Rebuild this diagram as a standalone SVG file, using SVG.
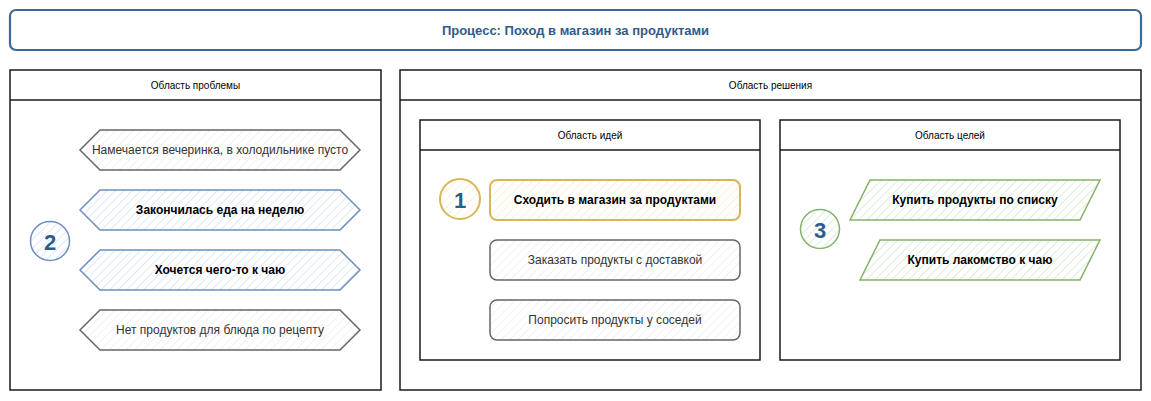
<svg xmlns="http://www.w3.org/2000/svg" width="1151" height="401" viewBox="0 0 1151 401">
<defs>
<pattern id="hBlue" patternUnits="userSpaceOnUse" width="6" height="6" patternTransform="rotate(45)"><rect width="6" height="6" fill="#ffffff"/><line x1="0" y1="0" x2="0" y2="6" stroke="#c9daf3" stroke-width="1.2"/></pattern>
<pattern id="hGrey" patternUnits="userSpaceOnUse" width="6" height="6" patternTransform="rotate(45)"><rect width="6" height="6" fill="#ffffff"/><line x1="0" y1="0" x2="0" y2="6" stroke="#e8e8e8" stroke-width="1.2"/></pattern>
<pattern id="hYellow" patternUnits="userSpaceOnUse" width="6" height="6" patternTransform="rotate(45)"><rect width="6" height="6" fill="#ffffff"/><line x1="0" y1="0" x2="0" y2="6" stroke="#f7e6b8" stroke-width="1.2"/></pattern>
<pattern id="hGreen" patternUnits="userSpaceOnUse" width="6" height="6" patternTransform="rotate(45)"><rect width="6" height="6" fill="#ffffff"/><line x1="0" y1="0" x2="0" y2="6" stroke="#c6e0c4" stroke-width="1.2"/></pattern>
</defs>
<style>
text{font-family:"Liberation Sans",Arial,sans-serif;text-anchor:middle;dominant-baseline:central}
.area{fill:#ffffff;stroke:#1a1a1a;stroke-width:1.5}
.hdr{font-size:10px;fill:#000}
.lbl{font-size:12px}
.dim{fill:#333333}
.strong{fill:#000;font-weight:600}
.num{font-size:22px;font-weight:bold;fill:#2f5b8c}
.grey{fill:url(#hGrey);stroke:#666666;stroke-width:1.5}
.blue{fill:url(#hBlue);stroke:#6c8ebf;stroke-width:1.5}
.yellow{fill:url(#hYellow);stroke:#d6b656;stroke-width:2}
.green{fill:url(#hGreen);stroke:#82b366;stroke-width:1.5}
</style>
<rect width="1151" height="401" fill="#ffffff"/>
<g id="title">
<rect x="10" y="10" width="1131" height="40" rx="6" fill="#ffffff" stroke="#3a6a98" stroke-width="2.2"/>
<text x="575.5" y="30" style="font-size:13px;font-weight:bold;fill:#2f5b8c">Процесс: Поход в магазин за продуктами</text>
</g>
<g id="area-problem">
<rect class="area" x="10" y="70" width="371" height="320"/>
<line x1="10" y1="100" x2="381" y2="100" stroke="#1a1a1a" stroke-width="1.5"/>
<text class="hdr" x="195.5" y="85">Область проблемы</text>
</g>
<g id="area-solution">
<rect class="area" x="400" y="70" width="741" height="320"/>
<line x1="400" y1="100" x2="1141" y2="100" stroke="#1a1a1a" stroke-width="1.5"/>
<text class="hdr" x="770.5" y="85">Область решения</text>
</g>
<g id="area-ideas">
<rect class="area" x="420" y="120" width="340" height="240"/>
<line x1="420" y1="150" x2="760" y2="150" stroke="#1a1a1a" stroke-width="1.5"/>
<text class="hdr" x="590" y="135">Область идей</text>
</g>
<g id="area-goals">
<rect class="area" x="780" y="120" width="340" height="240"/>
<line x1="780" y1="150" x2="1120" y2="150" stroke="#1a1a1a" stroke-width="1.5"/>
<text class="hdr" x="950" y="135">Область целей</text>
</g>
<g id="p1">
<polygon class="grey" points="100,130 340,130 360,150 340,170 100,170 80,150"/>
<text class="lbl dim" x="220" y="150">Намечается вечеринка, в холодильнике пусто</text>
</g>
<g id="p2">
<polygon class="blue" points="100,190 340,190 360,210 340,230 100,230 80,210"/>
<text class="lbl strong" x="220" y="210">Закончилась еда на неделю</text>
</g>
<g id="p3">
<polygon class="blue" points="100,250 340,250 360,270 340,290 100,290 80,270"/>
<text class="lbl strong" x="220" y="270">Хочется чего-то к чаю</text>
</g>
<g id="p4">
<polygon class="grey" points="100,310 340,310 360,330 340,350 100,350 80,330"/>
<text class="lbl dim" x="220" y="330">Нет продуктов для блюда по рецепту</text>
</g>
<g id="n2">
<circle class="blue" cx="50" cy="241" r="19.5"/>
<text class="num" x="50" y="242">2</text>
</g>
<g id="n1">
<circle class="yellow" cx="460" cy="199" r="20"/>
<text class="num" x="460" y="200">1</text>
</g>
<g id="i1">
<rect class="yellow" x="490" y="180" width="250" height="40" rx="7"/>
<text class="lbl strong" x="615" y="200">Сходить в магазин за продуктами</text>
</g>
<g id="i2">
<rect class="grey" x="490" y="240" width="250" height="40" rx="7"/>
<text class="lbl dim" x="615" y="260">Заказать продукты с доставкой</text>
</g>
<g id="i3">
<rect class="grey" x="490" y="300" width="250" height="40" rx="7"/>
<text class="lbl dim" x="615" y="320">Попросить продукты у соседей</text>
</g>
<g id="n3">
<circle class="green" cx="820" cy="229" r="19.5"/>
<text class="num" x="820" y="230">3</text>
</g>
<g id="g1">
<polygon class="green" points="870,180 1100,180 1080,220 850,220"/>
<text class="lbl strong" x="975" y="200">Купить продукты по списку</text>
</g>
<g id="g2">
<polygon class="green" points="880,240 1100,240 1080,280 860,280"/>
<text class="lbl strong" x="980" y="260">Купить лакомство к чаю</text>
</g>
<g id="connectors"/>
</svg>
